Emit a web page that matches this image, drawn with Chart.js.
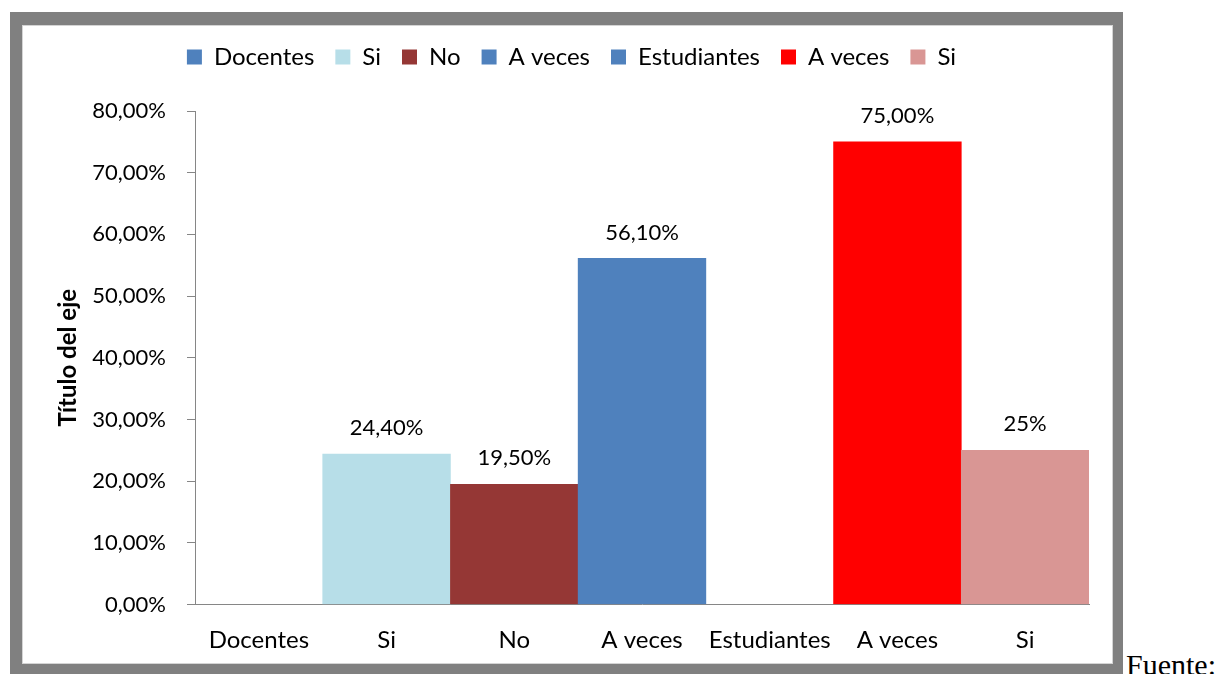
<!DOCTYPE html>
<html>
<head>
<meta charset="utf-8">
<script src="https://cdn.jsdelivr.net/npm/chart.js@4"></script>
<style>
    html, body {
        margin: 0;
        padding: 0;
        background: #fff;
        width: 1215px;
        height: 674px;
        overflow: hidden;
    }
    #frame {
        position: absolute;
        left: 10px;
        top: 12px;
        width: 1113px;
        height: 662px;
        box-sizing: border-box;
        border-style: solid;
        border-color: #808080;
        border-width: 13px 10px 10px 12px;
        background: #fff;
        box-shadow: inset 0 0 0 1px #d4d4d4;
    }
    #myChart {
        position: absolute;
        left: 22px;
        top: 0;
    }
    #fuente {
        position: absolute;
        left: 1126px;
        top: 650px;
        font-family: 'Liberation Serif', 'Times New Roman', serif;
        font-size: 30px;
        line-height: 1;
        color: #000;
        white-space: nowrap;
    }
</style>
</head>
<body>
<div id="frame"></div>
<canvas id="myChart" width="1090" height="664"></canvas>
<div id="fuente">Fuente:</div>

<script>
// chart data
const categories = ['Docentes', 'Si', 'No', 'A veces', 'Estudiantes', 'A veces', 'Si'];
const values = [null, 24.4, 19.5, 56.1, null, 75, 25];
const valueLabels = ['', '24,40%', '19,50%', '56,10%', '', '75,00%', '25%'];
const barColors = ['#4F81BD', '#B7DEE8', '#953735', '#4F81BD', '#4F81BD', '#FF0000', '#D99694'];
const yMax = 80;
const yStep = 10;

const FONT = 'Lato, "Open Sans", sans-serif';
const axisColor = '#868686';

// value labels above the bars
const barLabelPlugin = {
    id: 'barLabels',
    afterDatasetsDraw(chart) {
        const ctx = chart.ctx;
        const meta = chart.getDatasetMeta(0);
        ctx.save();
        ctx.font = '22px ' + FONT;
        ctx.fillStyle = '#000';
        ctx.textAlign = 'center';
        ctx.textBaseline = 'middle';
        meta.data.forEach((bar, i) => {
            if (!valueLabels[i]) return;
            ctx.fillText(valueLabels[i], bar.x, bar.y - 26);
        });
        ctx.restore();
    }
};

// legend gets a fixed height so the plot starts where it should
const legendHeightPlugin = {
    id: 'legendHeight',
    beforeInit(chart) {
        const origFit = chart.legend.fit;
        chart.legend.fit = function () {
            origFit.bind(chart.legend)();
            this.height = 87;
        };
    }
};

const ctx = document.getElementById('myChart').getContext('2d');
const myChart = new Chart(ctx, {
    type: 'bar',
    data: {
        labels: categories,
        datasets: [{
            data: values,
            backgroundColor: barColors,
            borderWidth: 0,
            barPercentage: 1,
            categoryPercentage: 1
        }]
    },
    options: {
        responsive: false,
        animation: false,
        layout: {
            padding: {top: 24, right: 23, bottom: 0, left: 32}
        },
        scales: {
            x: {
                grid: {display: false, drawTicks: false},
                border: {display: true, color: axisColor, width: 1},
                ticks: {
                    color: '#000',
                    font: {family: FONT, size: 24},
                    padding: 21,
                    maxRotation: 0,
                    autoSkip: false
                },
                afterFit: scale => { scale.height = 59.5; }
            },
            y: {
                min: 0,
                max: yMax,
                grid: {
                    display: true,
                    drawOnChartArea: false,
                    drawTicks: true,
                    tickLength: 8,
                    color: axisColor
                },
                border: {display: true, color: axisColor, width: 1},
                ticks: {
                    stepSize: yStep,
                    color: '#000',
                    font: {family: FONT, size: 22},
                    padding: 21,
                    callback: v => v.toFixed(2).replace('.', ',') + '%'
                },
                title: {
                    display: true,
                    text: 'Título del eje',
                    color: '#000',
                    font: {family: FONT, size: 24, weight: 'bold'},
                    padding: {top: 0, bottom: 0}
                },
                afterFit: scale => { scale.width = 141; }
            }
        },
        plugins: {
            legend: {
                position: 'top',
                labels: {
                    boxWidth: 15,
                    boxHeight: 15,
                    padding: 21,
                    color: '#000',
                    font: {family: FONT, size: 24},
                    generateLabels: () => categories.map((c, i) => ({
                        text: c,
                        fillStyle: barColors[i],
                        strokeStyle: barColors[i],
                        lineWidth: 0,
                        hidden: false,
                        index: i,
                        fontColor: '#000'
                    }))
                },
                onClick: () => {}
            },
            tooltip: {enabled: false}
        }
    },
    plugins: [barLabelPlugin, legendHeightPlugin]
});
</script>
</body>
</html>
